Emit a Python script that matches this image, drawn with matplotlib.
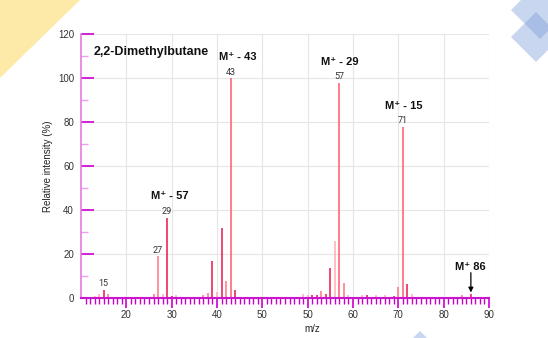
import numpy as np
import matplotlib
matplotlib.use("Agg")
import matplotlib.pyplot as plt
from matplotlib.patches import Polygon

plt.rcParams['font.family'] = ['Liberation Sans', 'DejaVu Sans']

# ---------------- data ----------------
mz = [13, 14, 15, 16, 26, 27, 28, 29, 30, 31, 37, 38, 39, 40, 41, 42, 43, 44,
      49, 50, 51, 52, 53, 54, 55, 56, 57, 58, 59, 62, 63, 65, 67, 69, 70, 71,
      72, 73, 84, 86]
intensity = [0.8, 1.7, 3.5, 1.7, 1.6, 18.8, 1.6, 36.4, 0.9, 1.1, 1.1, 2.1, 16.8,
             2.5, 31.8, 7.4, 100.0, 3.5,
             1.5, 1.1, 1.0, 1.1, 2.9, 1.4, 13.6, 25.7, 97.8, 6.5, 1.3, 1.1, 1.0,
             1.0, 1.1, 0.8, 4.6, 77.8, 6.1, 1.4, 1.3, 1.5]
# colour class of each stick (style)
shade = ['L', 'L', 'R', 'P', 'P', 'P', 'L', 'R', 'R', 'L', 'P', 'P', 'R', 'L',
         'R', 'P', 'M', 'R',
         'L', 'L', 'R', 'R', 'P', 'R', 'R', 'L', 'M', 'P', 'L', 'L', 'R', 'L',
         'L', 'R', 'P', 'M', 'R', 'L', 'P', 'R']

xtick_labels = ['20', '30', '40', '50', '50', '60', '70', '80', '90']
yticks = [0, 20, 40, 60, 80, 100, 120]

number_labels = [15, 27, 29, 43, 57, 71]
fragment_labels = [(29, 'M\u207a - 57'), (43, 'M\u207a - 43'),
                   (57, 'M\u207a - 29'), (71, 'M\u207a - 15')]
molecular_ion = 86
ion_label = 'M\u207a 86'
title = '2,2-Dimethylbutane'

# The drawn axis repeats the "50" label: from m/z 47 upward the sticks sit
# one extra decade to the right.
def axis_pos(m):
    m = np.asarray(m, dtype=float)
    return np.where(m >= 47, m + 10, m)

height_of = dict(zip(mz, intensity))

palette = {'R': '#e8174a', 'P': '#ff7383', 'L': '#ffacb4', 'M': '#ff5b6d'}

# ---------------- figure ----------------
W, H = 548, 338
fig = plt.figure(figsize=(W / 100, H / 100), dpi=100)
fig.patch.set_facecolor('white')

# background decorations (display pixel coordinates)
def px(pts):
    return [(x, H - y) for x, y in pts]

fig.add_artist(Polygon(px([(0, 0), (80, 0), (0, 78)]), closed=True,
                       transform=None, facecolor='#fdeaa9', edgecolor='none',
                       zorder=0))
blue = '#81a0da'
for cx, cy, r in [(540, 10, 29), (536, 37, 25), (420, 345, 14)]:
    fig.add_artist(Polygon(px([(cx - r, cy), (cx, cy - r), (cx + r, cy),
                               (cx, cy + r)]), closed=True, transform=None,
                           facecolor=blue, alpha=0.43, edgecolor='none',
                           zorder=0))

ax = fig.add_axes([81 / W, (H - 297.5) / H, 408 / W, 263.2 / H])
ax.set_facecolor('none')
ax.set_xlim(10, 100)
ax.set_ylim(0, 120)

ax.vlines(axis_pos(mz), 0, intensity, colors=[palette[s] for s in shade],
          lw=1.1, zorder=3)

# grid
ax.set_xticks(np.arange(20, 101, 10))
ax.set_xticklabels(xtick_labels)
ax.set_xticks(np.arange(11, 100, 1), minor=True)
ax.set_yticks(yticks)
ax.set_yticks(np.arange(10, 120, 20), minor=True)
ax.grid(which='major', color='#e6e6e6', lw=0.8, zorder=0)
ax.set_axisbelow(True)

for s in ['top', 'right']:
    ax.spines[s].set_visible(False)
ax.spines['left'].set_color('#e27ae2')
ax.spines['left'].set_linewidth(1.2)
ax.spines['bottom'].set_color('#cc14cc')
ax.spines['bottom'].set_linewidth(1.5)
ax.spines['bottom'].set_zorder(4)

ax.tick_params(axis='x', which='major', direction='out', length=7, width=1.2,
               color='#cc00cc', labelsize=7, labelcolor='#333333', pad=2)
ax.tick_params(axis='x', which='minor', direction='out', length=4, width=1.0,
               color='#cc00cc')
for i, t in enumerate(ax.xaxis.get_minor_ticks()):
    t.tick1line.set_color('#cc00cc' if i % 2 == 0 else '#f09cf0')
ax.tick_params(axis='y', which='major', direction='in', length=9, width=1.2,
               color='#cc00cc', labelsize=7, labelcolor='#333333', pad=5)
ax.tick_params(axis='y', which='minor', direction='in', length=5, width=1.0,
               color='#f09cf0')

ax.set_ylabel('Relative intensity (%)', fontsize=7, color='#222222')
ax.yaxis.set_label_coords((53 - 81) / 408, (297.5 - 166) / 263.2)
ax.set_xlabel('m/z', fontsize=7, color='#222222')
ax.xaxis.set_label_coords((312 - 81) / 408, -(324 - 297.5) / 263.2)

# title inside plot
ax.text((94 - 81) / 408, (297.5 - 52.5) / 263.2, title, transform=ax.transAxes,
        fontsize=9, fontweight='bold', ha='left', va='center', color='#111111')

# peak number labels
for m in number_labels:
    ax.annotate(str(m), (float(axis_pos(m)), height_of[m]),
                xytext=(0, 4.4), textcoords='offset points', ha='center',
                va='center', fontsize=6.5, color='#333333',
                family=['Roboto', 'DejaVu Sans'], stretch='condensed')

# fragment labels
dx = {29: 1.8, 43: 5.0, 57: 0.5, 71: 0.3}
for m, txt in fragment_labels:
    ax.annotate(txt, (float(axis_pos(m)), height_of[m]),
                xytext=(dx[m], 15.3), textcoords='offset points', ha='center',
                va='center', fontsize=8, fontweight='bold', color='#111111')

# molecular ion arrow
xm = float(axis_pos(molecular_ion))
ax.annotate('', xy=(xm, 2.3), xytext=(xm, 11.3),
            arrowprops=dict(arrowstyle='-|>', color='black', lw=0.9,
                            mutation_scale=7, shrinkA=0, shrinkB=0))
ax.text(xm - 0.2, 14.0, ion_label, ha='center', va='center', fontsize=8,
        fontweight='bold', color='#111111')

fig.savefig('out.png', dpi=100)
